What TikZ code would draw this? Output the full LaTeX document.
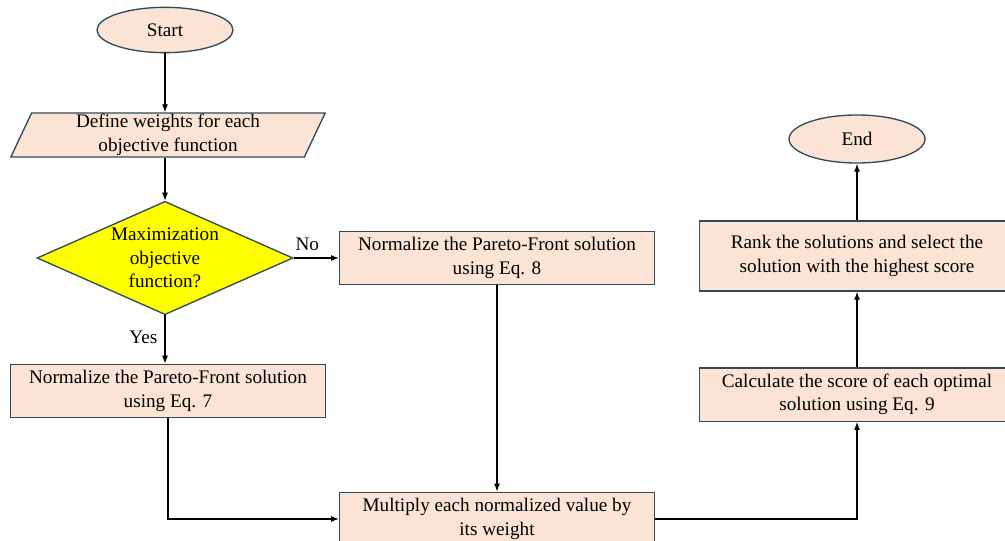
\documentclass[tikz,border=0pt]{standalone}
\usepackage{fontspec}
\setmainfont{Liberation Serif}
\usetikzlibrary{arrows.meta,shapes.geometric}
\definecolor{flowpeach}{RGB}{251,228,214}
\definecolor{flowslate}{RGB}{47,75,90}
\definecolor{flowyellow}{RGB}{255,255,0}

\begin{document}
\begin{tikzpicture}[x=0.75pt, y=-0.75pt,
    procbox/.style={rectangle, draw=flowslate, fill=flowpeach, line width=1pt, minimum width=236pt, minimum height=40pt, align=center, inner sep=2pt, font=\fontsize{14.4}{17.6}\selectfont},
    termnode/.style={ellipse, draw=flowslate, fill=flowpeach, line width=1pt, minimum width=102pt, minimum height=34pt, inner sep=0pt, font=\fontsize{14.4}{17.6}\selectfont},
    ionode/.style={trapezium, trapezium left angle=72, trapezium right angle=108, trapezium stretches=true, draw=flowslate, fill=flowpeach, line width=1pt, minimum width=236pt, minimum height=33pt, align=center, inner sep=1pt, font=\fontsize{14.4}{17.6}\selectfont},
    decnode/.style={diamond, draw=flowslate, fill=flowyellow, line width=1pt, aspect=2.27, minimum width=192pt, minimum height=85pt, align=center, inner sep=0pt, font=\fontsize{14.4}{17.6}\selectfont},
    flowlbl/.style={font=\fontsize{14.4}{17.6}\selectfont},
    flowarrow/.style={-{Latex[length=6pt,width=4.5pt]}, line width=0.9pt}
  ]
  \useasboundingbox (0,0) rectangle (1005,541);

  % left column
  \node[termnode] (start) at (165,30) {Start};
  \node[ionode] (weights) at (168,135) {Define weights for each\\objective function};
  \node[decnode] (maxq) at (165,258) {Maximization\\objective\\function?};
  \node[procbox] (norm7) at (168,391) {Normalize the Pareto-Front solution\\using Eq. 7};

  % middle column
  \node[procbox] (norm8) at (497,258) {Normalize the Pareto-Front solution\\using Eq. 8};
  \node[procbox] (mult) at (497,519) {Multiply each normalized value by\\its weight};

  % right column
  \node[procbox] (score) at (857,394.5) {Calculate the score of each optimal\\solution using Eq. 9};
  \node[procbox, minimum height=52.5pt] (rank) at (857,256) {Rank the solutions and select the\\solution with the highest score};
  \node[termnode, minimum height=36pt] (stop) at (857,139) {End};

  % connectors
  \draw[flowarrow] (start) -- (start |- weights.north);
  \draw[flowarrow] (maxq.north |- weights.south) -- (maxq.north);
  \draw[flowarrow] (maxq.east) -- node[flowlbl, above, pos=0.3, yshift=2pt] {No} (norm8.west);
  \draw[flowarrow] (maxq.south) -- node[flowlbl, left, pos=0.45, xshift=-2pt] {Yes} (maxq.south |- norm7.north);
  \draw[flowarrow] (norm7.south) |- (mult.west);
  \draw[flowarrow] (norm8.south) -- (mult.north);
  \draw[flowarrow] (mult.east) -| (score.south);
  \draw[flowarrow] (score.north) -- (rank.south);
  \draw[flowarrow] (rank.north) -- (stop.south);
\end{tikzpicture}
\end{document}
